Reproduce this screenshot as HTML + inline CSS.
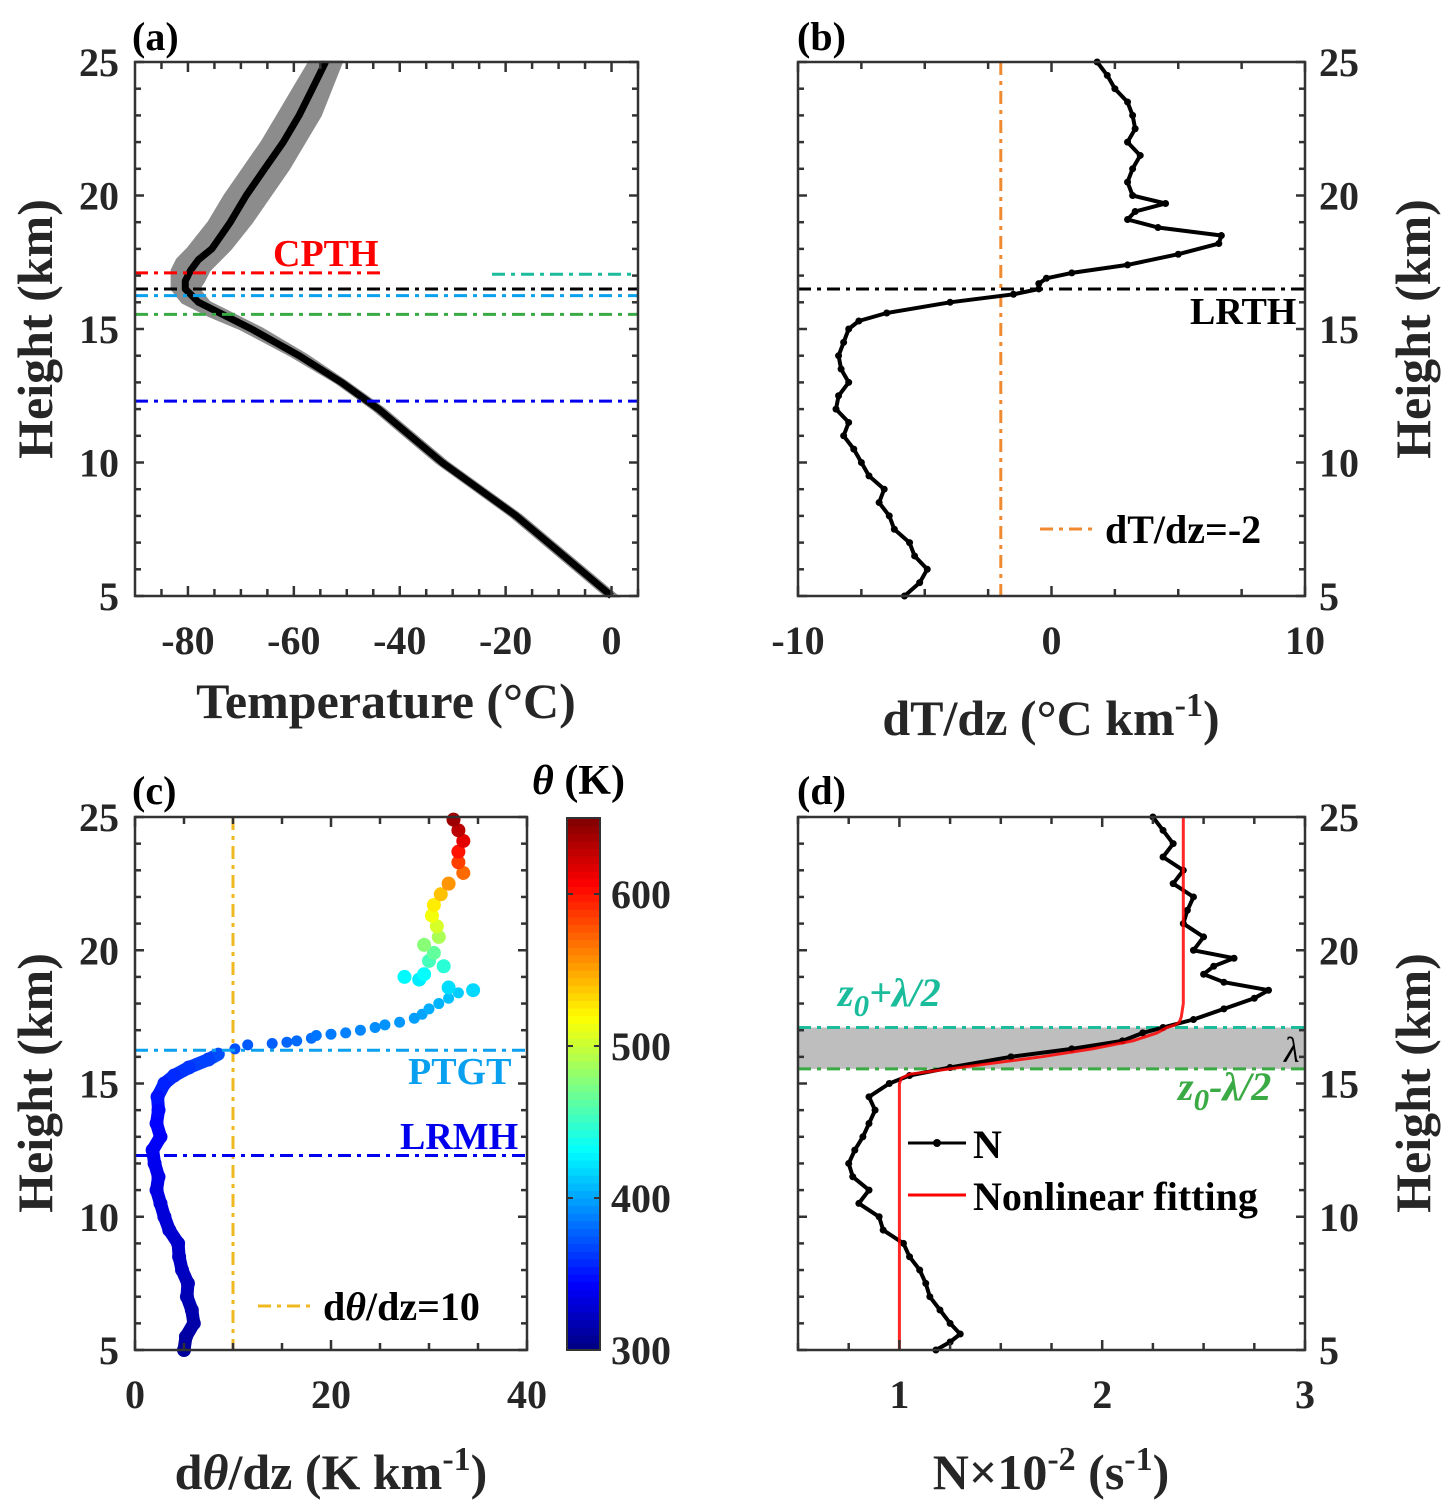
<!DOCTYPE html>
<html><head><meta charset="utf-8"><style>
html,body{margin:0;padding:0;background:#fff}
svg{display:block;font-family:"Liberation Serif",serif;font-weight:bold}
</style></head><body>
<svg id="fig" width="1450" height="1512" viewBox="0 0 1450 1512" xmlns="http://www.w3.org/2000/svg"></svg>
<script>
// ---------- data ----------
const tHeights = [5,6,7,8,9,10,11,12,13,14,15,15.5,16,16.5,16.8,17.2,17.6,18,19,20,21,22,23,24,25];
const tMean    = [0,-6,-12,-18,-25,-32,-38,-44,-51,-59,-68,-73,-78,-80.5,-80.5,-79.5,-78,-75.5,-72,-69,-65.5,-62,-59,-56.5,-54];
const tLow     = [-1,-7,-13,-19,-26,-33,-39,-45,-52,-60.5,-70,-76,-81,-83,-83,-83,-82,-80,-76,-73,-69.5,-66,-63,-60,-57];
const tHigh    = [1,-5,-11,-17,-24,-31,-37,-43,-50,-57.5,-66,-71,-76,-78,-77,-76,-74,-72,-68,-64.5,-61,-58,-55,-53,-51];

const bHeights = [5,5.5,6,6.5,7,7.5,8,8.5,9,9.5,10,10.5,11,11.5,12,12.5,13,13.5,14,14.5,15,15.3,15.6,16,16.3,16.5,16.7,16.9,17.1,17.4,17.8,18.2,18.5,18.8,19.1,19.4,19.7,20,20.5,21,21.5,22,22.5,23,23.5,24,24.5,25];
const bVals    = [-5.8,-5.2,-4.9,-5.4,-5.6,-6.2,-6.4,-6.8,-6.6,-7.2,-7.5,-7.8,-8.2,-8.0,-8.5,-8.4,-8.0,-8.3,-8.4,-8.2,-8.0,-7.6,-6.5,-4.0,-1.5,-0.5,-0.5,-0.2,0.8,3.0,5.0,6.6,6.7,4.2,3.0,3.3,4.5,3.2,3.0,3.2,3.5,3.0,3.3,3.2,3.0,2.5,2.2,1.8];

const cHeights = [5,5.5,6,6.5,7,7.5,8,8.5,9,9.5,10,10.5,11,11.5,12,12.5,13,13.5,14,14.5,15,15.3,15.6,15.9,16.1,16.3,16.45,16.5,16.55,16.6,16.7,16.8,16.85,16.9,17.0,17.1,17.2,17.3,17.45,17.6,17.8,18.0,18.2,18.4,18.5,18.6,18.9,19.0,19.1,19.4,19.6,19.9,20.2,20.5,20.9,21.3,21.7,22.1,22.5,22.9,23.3,23.7,24.1,24.5,24.9];
const cVals    = [5,5.2,6,5.8,5.3,5.4,4.8,4.5,4.4,3.5,3.0,2.6,2.2,2.4,2.0,1.8,2.6,2.2,2.4,2.3,3.0,4.0,5.5,7.5,8.5,10.2,11.5,14,15.5,16.5,18,18.5,20,21.5,23,24.5,25.5,27,28.5,29.3,30,31,32,33,34.5,32,29,27.5,29.5,31.5,30,30.5,29.5,31,30.8,30.3,30.5,31.2,32,33.5,33,33,33.5,33,32.5];
const cTheta   = [310,312,314,316,318,320,322,324,326,328,330,332,334,336,338,340,342,344,346,350,355,358,362,366,370,372,374,376,378,380,382,384,386,388,390,392,394,396,398,400,403,406,410,414,418,420,425,430,432,445,455,465,478,490,505,515,525,540,555,570,585,600,615,630,640];

const dHeights = [5,5.3,5.6,6,6.5,7,7.5,8,8.5,9,9.5,10,10.5,11,11.5,12,12.5,13,13.5,14,14.5,15,15.3,15.6,16,16.3,16.6,16.9,17.1,17.4,17.8,18.2,18.5,18.8,19.1,19.4,19.7,20,20.5,21,21.5,22,22.5,23,23.5,24,24.5,25];
const dVals    = [1.18,1.25,1.3,1.25,1.2,1.15,1.13,1.1,1.05,1.02,0.92,0.9,0.8,0.85,0.77,0.75,0.78,0.82,0.85,0.88,0.85,0.95,1.05,1.25,1.55,1.85,2.1,2.2,2.3,2.45,2.6,2.75,2.82,2.6,2.5,2.55,2.65,2.45,2.5,2.4,2.42,2.45,2.35,2.4,2.3,2.35,2.3,2.25];
const fitHeights = [5,14,15,15.2,15.35,15.5,15.7,16,16.3,16.6,16.9,17.1,17.2,17.3,17.5,18,20,25];
const fitVals    = [1.0,1.0,1.0,1.01,1.05,1.2,1.4,1.7,1.95,2.15,2.27,2.32,2.36,2.38,2.39,2.4,2.4,2.4];

const hLines = {cpth:17.1, lrth:16.5, ptgt:16.25, zlow:15.55, lrmh:12.3};

// ---------- helpers ----------
const NS="http://www.w3.org/2000/svg";
const svg=document.getElementById('fig');
const TF=40, TT=50;
function el(tag,attrs,parent){const e=document.createElementNS(NS,tag);for(const k in attrs)e.setAttribute(k,attrs[k]);(parent||svg).appendChild(e);return e;}
function txt(s,attrs,parent){const e=el('text',attrs,parent);e.textContent=s;return e;}
function mkAxis(x0,x1,y0,y1,xmin,xmax){return {x:v=>x0+(v-xmin)/(xmax-xmin)*(x1-x0),y:h=>y1-(h-5)/20*(y1-y0),x0,x1,y0,y1};}
function pathOf(ax,xs,hs){return xs.map((v,i)=>(i?'L':'M')+ax.x(v).toFixed(1)+','+ax.y(hs[i]).toFixed(1)).join('');}
function frame(ax,xt,xminor,xlabels,rightLabels,name){
  const g=el('g',{});
  
  
  for(let h=5;h<=25;h++){const y=ax.y(h);const L=h%5===0?9:6;
    el('line',{x1:ax.x0,x2:ax.x0+L,y1:y,y2:y,stroke:'#333','stroke-width':2.5},g);
    el('line',{x1:ax.x1,x2:ax.x1-L,y1:y,y2:y,stroke:'#333','stroke-width':2.5},g);}
  xminor.forEach(v=>{const x=ax.x(v);el('line',{x1:x,x2:x,y1:ax.y0,y2:ax.y0+7,stroke:'#333','stroke-width':2.5},g);el('line',{x1:x,x2:x,y1:ax.y1,y2:ax.y1-7,stroke:'#333','stroke-width':2.5},g);});
  xt.forEach((v,i)=>{const x=ax.x(v);el('line',{x1:x,x2:x,y1:ax.y1,y2:ax.y1-10,stroke:'#333','stroke-width':2.5},g);el('line',{x1:x,x2:x,y1:ax.y0,y2:ax.y0+10,stroke:'#333','stroke-width':2.5},g);
    const t=txt(xlabels[i],{x:x,y:ax.y1+58,'font-size':TF,'text-anchor':'middle',fill:'#262626'},g);
    
    });
  [5,10,15,20,25].forEach(h=>{const t=rightLabels?txt(String(h),{x:ax.x1+14,y:ax.y(h)+14,'font-size':TF,fill:'#262626'},g):txt(String(h),{x:ax.x0-16,y:ax.y(h)+14,'font-size':TF,'text-anchor':'end',fill:'#262626'},g);
    
    });
  el('rect',{x:ax.x0,y:ax.y0,width:ax.x1-ax.x0,height:ax.y1-ax.y0,fill:'none',stroke:'#333','stroke-width':2.5},g);
}
function hline(ax,h,color,xa,xb,name,w){const l=el('line',{x1:xa,x2:xb,y1:ax.y(h),y2:ax.y(h),stroke:color,'stroke-width':w||3,'stroke-dasharray':'13,6,4,6'});
  
  return l;}
function jet(t){t=Math.max(0,Math.min(1,t));const r=Math.min(4*t-1.5,-4*t+4.5),g=Math.min(4*t-0.5,-4*t+3.5),b=Math.min(4*t+0.5,-4*t+2.5);
  const c=v=>Math.round(255*Math.max(0,Math.min(1,v)));return `rgb(${c(r)},${c(g)},${c(b)})`;}
function ylabel(x,y,name){const t=txt('Height (km)',{x:x,y:y,'font-size':TT,'text-anchor':'middle',fill:'#262626',transform:`rotate(-90 ${x} ${y})`});
  
  }

// ---------- panel a ----------
const A=mkAxis(135,638,62,596,-90,5);
{const lo=tLow.map((v,i)=>[A.x(v),A.y(tHeights[i])]),hi=tHigh.map((v,i)=>[A.x(v),A.y(tHeights[i])]).reverse();
 const p=el('path',{d:'M'+lo.concat(hi).map(q=>q[0].toFixed(1)+','+q[1].toFixed(1)).join('L')+'Z',fill:'#8c8c8c',stroke:'#8c8c8c','stroke-width':3});
 
 }
{const p=el('path',{d:pathOf(A,tMean,tHeights),fill:'none',stroke:'#000','stroke-width':7,'stroke-linejoin':'round'});
 
 }
hline(A,hLines.cpth,'#f00',135,383,'cpth-line');
hline(A,17.05,'#1abc9c',492,638,'z0-plus-line-a');
hline(A,hLines.lrth,'#000',135,638,'lrth-line-a');
hline(A,hLines.ptgt,'#0aa0f0',135,638,'ptgt-line-a');
hline(A,hLines.zlow,'#3aaa44',135,638,'z0-minus-line-a');
hline(A,hLines.lrmh,'#0000ee',135,638,'lrmh-line-a');
{const t=txt('CPTH',{x:273,y:266,'font-size':38,fill:'#f00'});}
frame(A,[-80,-60,-40,-20,0],[-85,-75,-70,-65,-55,-50,-45,-35,-30,-25,-15,-10,-5,5],['-80','-60','-40','-20','0'],false,'panel-a');
{const t=txt('Temperature (°C)',{x:386,y:718,'font-size':TT,'text-anchor':'middle',fill:'#262626'});}
ylabel(52,329,'y-axis-title-a');
{const t=txt('(a)',{x:132,y:50,'font-size':40,fill:'#000'});}

// ---------- panel b ----------
const B=mkAxis(798,1305,62,596,-10,10);
{const l=el('line',{x1:B.x(-2),x2:B.x(-2),y1:62,y2:596,stroke:'#f08a30','stroke-width':3,'stroke-dasharray':'13,6,4,6'});}
hline(B,hLines.lrth,'#000',798,1305,'lrth-line-b');
{const p=el('path',{d:pathOf(B,bVals,bHeights),fill:'none',stroke:'#000','stroke-width':4,'stroke-linejoin':'round'});
 bVals.forEach((v,i)=>{const c=el('circle',{cx:B.x(v),cy:B.y(bHeights[i]),r:3.5,fill:'#000'});});}
{const t=txt('LRTH',{x:1190,y:324,'font-size':38,fill:'#000'});}
{const l=el('line',{x1:1040,x2:1097,y1:529,y2:529,stroke:'#f08a30','stroke-width':3,'stroke-dasharray':'13,6,4,6'});
 const t=txt('dT/dz=-2',{x:1105,y:543,'font-size':40,fill:'#000'});}
frame(B,[-10,0,10],[-7.5,-5,-2.5,2.5,5,7.5],['-10','0','10'],true,'panel-b');
{const t=el('text',{x:1051,y:735,'font-size':TT,'text-anchor':'middle',fill:'#262626'});t.innerHTML='dT/dz (°C km<tspan dy="-19" font-size="34">-1</tspan><tspan dy="19">)</tspan>';}
ylabel(1430,329,'y-axis-title-b');
{const t=txt('(b)',{x:797,y:50,'font-size':40,fill:'#000'});}

// ---------- panel c ----------
const C=mkAxis(135,527,817,1350,0,40);
{const l=el('line',{x1:C.x(10),x2:C.x(10),y1:817,y2:1350,stroke:'#f0b820','stroke-width':3,'stroke-dasharray':'13,6,4,6'});}
cVals.forEach((v,i)=>{if(i>0&&cHeights[i]<=16.2){const s=el('line',{x1:C.x(cVals[i-1]),y1:C.y(cHeights[i-1]),x2:C.x(v),y2:C.y(cHeights[i]),stroke:jet((cTheta[i]-300)/350),'stroke-width':13,'stroke-linecap':'round'});
  
  }});
cVals.forEach((v,i)=>{const c=el('circle',{cx:C.x(v),cy:C.y(cHeights[i]),r:cHeights[i]<18.5&&cHeights[i]>16?5.5:7,fill:jet((cTheta[i]-300)/350)});
  
  });
hline(C,hLines.ptgt,'#0aa0f0',135,527,'ptgt-line-c');
hline(C,hLines.lrmh,'#0000ee',135,527,'lrmh-line-c');
{const t=txt('PTGT',{x:408,y:1084,'font-size':38,fill:'#0aa0f0'});}
{const t=txt('LRMH',{x:400,y:1149,'font-size':38,fill:'#0000ee'});}
{const l=el('line',{x1:258,x2:315,y1:1306,y2:1306,stroke:'#f0b820','stroke-width':3,'stroke-dasharray':'13,6,4,6'});
 const t=el('text',{x:323,y:1320,'font-size':40,fill:'#000'});t.innerHTML='d<tspan font-style="italic">θ</tspan>/dz=10';}
frame(C,[0,20,40],[5,10,15,25,30,35],['0','20','40'],false,'panel-c');
{const t=el('text',{x:331,y:1489,'font-size':TT,'text-anchor':'middle',fill:'#262626'});t.innerHTML='d<tspan font-style="italic">θ</tspan>/dz (K km<tspan dy="-19" font-size="34">-1</tspan><tspan dy="19">)</tspan>';}
ylabel(52,1083,'y-axis-title-c');
{const t=txt('(c)',{x:132,y:804,'font-size':40,fill:'#000'});}
// colorbar
const cbTicks=[300,400,500,600];
{const g=el('g',{});
 const cy=v=>1350-(v-300)/350*532;
 for(let i=0;i<70;i++){const v0=300+i*5;el('rect',{x:567,y:cy(v0+5),width:33,height:532/70+0.6,fill:jet((v0+2.5-300)/350)},g);}
 el('rect',{x:567,y:818,width:33,height:532,fill:'none',stroke:'#333','stroke-width':2},g);
 cbTicks.forEach(v=>{el('line',{x1:567,x2:573,y1:cy(v),y2:cy(v),stroke:'#333','stroke-width':2},g);el('line',{x1:600,x2:594,y1:cy(v),y2:cy(v),stroke:'#333','stroke-width':2},g);
   const t=txt(String(v),{x:611,y:cy(v)+14,'font-size':TF,fill:'#262626'},g);});
 const t=el('text',{x:532,y:794,'font-size':42,fill:'#000'},g);t.innerHTML='<tspan font-style="italic">θ</tspan> (K)';}

// ---------- panel d ----------
const D=mkAxis(798,1305,817,1350,0.5,3);
{const r=el('rect',{x:798,y:D.y(17.1),width:507,height:D.y(15.55)-D.y(17.1),fill:'#bebebe'});}
hline(D,17.1,'#1abc9c',798,1305,'z0-plus-line-d');
hline(D,hLines.zlow,'#3aaa44',798,1305,'z0-minus-line-d');
{const p=el('path',{d:pathOf(D,dVals,dHeights),fill:'none',stroke:'#000','stroke-width':4,'stroke-linejoin':'round'});
 dVals.forEach((v,i)=>{const c=el('circle',{cx:D.x(v),cy:D.y(dHeights[i]),r:3.5,fill:'#000'});});}
{const p=el('path',{d:pathOf(D,fitVals,fitHeights),fill:'none',stroke:'#f00','stroke-width':3,'stroke-linejoin':'round',opacity:0.85});}
{const t=el('text',{x:838,y:1006,'font-size':40,fill:'#1abc9c','font-style':'italic'});t.innerHTML='z<tspan dy="10" font-size="31">0</tspan><tspan dy="-10">+λ/2</tspan>';}
{const t=el('text',{x:1178,y:1100,'font-size':40,fill:'#3aaa44','font-style':'italic'});t.innerHTML='z<tspan dy="10" font-size="31">0</tspan><tspan dy="-10">-λ/2</tspan>';}
{const t=txt('λ',{x:1284,y:1062,'font-size':36,fill:'#000','font-style':'italic','font-weight':'normal'});}
{const l=el('line',{x1:908,x2:966,y1:1143,y2:1143,stroke:'#000','stroke-width':3});
 el('circle',{cx:937,cy:1143,r:4,fill:'#000'});
 const t=txt('N',{x:973,y:1158,'font-size':40,fill:'#000'});
 const l2=el('line',{x1:908,x2:966,y1:1195,y2:1195,stroke:'#f00','stroke-width':3});
 const t2=txt('Nonlinear fitting',{x:973,y:1210,'font-size':40,fill:'#000'});}
frame(D,[1,2,3],[0.5,0.75,1.25,1.5,1.75,2.25,2.5,2.75],['1','2','3'],true,'panel-d');
{const t=el('text',{x:1051,y:1489,'font-size':TT,'text-anchor':'middle',fill:'#262626'});t.innerHTML='N×10<tspan dy="-19" font-size="34">-2</tspan><tspan dy="19"> (s</tspan><tspan dy="-19" font-size="34">-1</tspan><tspan dy="19">)</tspan>';}
ylabel(1430,1083,'y-axis-title-d');
{const t=txt('(d)',{x:797,y:804,'font-size':40,fill:'#000'});}
</script>
</body></html>
